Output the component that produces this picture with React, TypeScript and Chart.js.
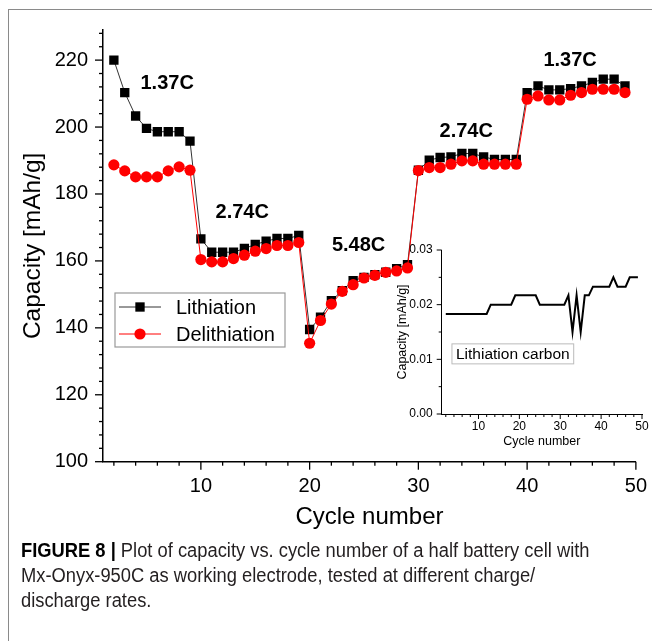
import React, { useEffect, useRef } from "react";
import { Chart, registerables } from "chart.js";

Chart.register(...registerables);

const FONT = '"Liberation Sans", Arial, Helvetica, sans-serif';

// ---------- data ----------
const cycles = [
  2, 3, 4, 5, 6, 7, 8, 9, 10, 11, 12, 13, 14, 15, 16, 17, 18, 19, 20, 21, 22, 23, 24, 25,
  26, 27, 28, 29, 30, 31, 32, 33, 34, 35, 36, 37, 38, 39, 40, 41, 42, 43, 44, 45, 46, 47, 48, 49,
];

const lithiation = [
  220, 210.3, 203.3, 199.6, 198.6, 198.6, 198.6, 195.8,
  166.6,
  162.6, 162.6, 162.6, 163.7, 164.9, 165.9, 166.7, 166.7, 167.6,
  139.5, 143.2, 148.1, 151.1, 154.1, 155.1, 155.9, 156.6, 157.7, 158.9,
  187.1, 190.1, 190.9, 191.1, 192.1, 192.1, 191.1, 190.3, 190.3, 190.3,
  210.3, 212.3, 211.1, 211.1, 211.5, 212.3, 213.3, 214.3, 214.3, 212.3,
];

const delithiation = [
  188.7, 186.9, 185.1, 185.1, 185.1, 186.9, 188.1, 187.1,
  160.4,
  159.7, 159.7, 160.7, 161.7, 162.9, 163.7, 164.6, 164.6, 165.5,
  135.4, 142.2, 147.1, 150.9, 152.9, 154.9, 155.7, 156.6, 157.0, 157.9,
  187.0, 187.9, 187.9, 188.9, 189.9, 189.9, 188.9, 188.9, 188.9, 188.9,
  208.3, 209.3, 208.1, 208.1, 209.5, 210.3, 211.3, 211.3, 211.3, 210.3,
];

const carbonLithiation = [
  0.0183, 0.0183, 0.0183, 0.0183, 0.0183, 0.0183, 0.0183, 0.0183, 0.0183, 0.0183, 0.0183,
  0.02, 0.02, 0.02, 0.02, 0.02, 0.02,
  0.0217, 0.0217, 0.0217, 0.0217, 0.0217, 0.0217,
  0.02, 0.02, 0.02, 0.02, 0.02, 0.02, 0.02,
  0.0217, 0.015, 0.0217, 0.015, 0.0217, 0.0217,
  0.0233, 0.0233, 0.0233, 0.0233, 0.0233,
  0.025,
  0.0233, 0.0233, 0.0233,
  0.025, 0.025, 0.025,
];

const rateLabels = ["1.37C", "2.74C", "5.48C", "2.74C", "1.37C"];
const rateLabelX = [6.9, 13.8, 24.5, 34.4, 43.95];
const rateLabelY = [213.0, 174.4, 164.7, 198.8, 219.8];

const mainTitleX = "Cycle number";
const mainTitleY = "Capacity [mAh/g]";
const insetTitleX = "Cycle number";
const insetTitleY = "Capacity [mAh/g]";
const insetLabel = "Lithiation carbon";

// ---------- plugins ----------
type TickSpec = { id: string; minor: number; major: number; majorLen: number; minorLen: number; width: number };

const tickMarksPlugin = {
  id: "tickMarks",
  afterDraw(chart: any, _args: any, opts: any) {
    const ctx = chart.ctx;
    const area = chart.chartArea;
    (opts.specs || []).forEach((spec: TickSpec) => {
      const scale = chart.scales[spec.id];
      ctx.save();
      ctx.strokeStyle = "#000";
      ctx.lineWidth = spec.width;
      const startIdx = Math.ceil(scale.min / spec.minor - 1e-9);
      const endIdx = Math.floor(scale.max / spec.minor + 1e-9);
      for (let k = startIdx; k <= endIdx; k++) {
        const v = k * spec.minor;
        const r = v / spec.major;
        const isMajor = Math.abs(r - Math.round(r)) < 1e-6;
        const len = isMajor ? spec.majorLen : spec.minorLen;
        const p = scale.getPixelForValue(v);
        ctx.beginPath();
        if (scale.isHorizontal()) {
          ctx.moveTo(p, area.bottom);
          ctx.lineTo(p, area.bottom + len);
        } else {
          ctx.moveTo(area.left, p);
          ctx.lineTo(area.left - len, p);
        }
        ctx.stroke();
      }
      ctx.restore();
    });
  },
};

const mainDecorPlugin = {
  id: "mainDecor",
  afterDatasetsDraw(chart: any) {
    const ctx = chart.ctx;
    const xs = chart.scales.x;
    const ys = chart.scales.y;
    ctx.save();
    // rate annotations
    ctx.fillStyle = "#000";
    ctx.font = `bold 20px ${FONT}`;
    ctx.textAlign = "center";
    ctx.textBaseline = "middle";
    rateLabels.forEach((t, i) => {
      ctx.fillText(t, xs.getPixelForValue(rateLabelX[i]), ys.getPixelForValue(rateLabelY[i]));
    });
    // legend box
    const bx = 115, by = 293, bw = 170, bh = 54;
    ctx.fillStyle = "#fff";
    ctx.fillRect(bx, by, bw, bh);
    ctx.strokeStyle = "#999";
    ctx.lineWidth = 1.2;
    ctx.strokeRect(bx, by, bw, bh);
    const entries = [chart.data.datasets[1], chart.data.datasets[0]];
    entries.forEach((ds: any, i: number) => {
      const cy = by + 14 + i * 27;
      ctx.strokeStyle = ds.borderColor;
      ctx.lineWidth = 1;
      ctx.beginPath();
      ctx.moveTo(bx + 4, cy);
      ctx.lineTo(bx + 46, cy);
      ctx.stroke();
      ctx.fillStyle = ds.backgroundColor;
      ctx.beginPath();
      if (ds.pointStyle === "rect") {
        const s = ds.pointRadius * Math.SQRT1_2;
        ctx.rect(bx + 25 - s, cy - s, 2 * s, 2 * s);
      } else {
        ctx.arc(bx + 25, cy, ds.pointRadius, 0, Math.PI * 2);
      }
      ctx.fill();
      ctx.fillStyle = "#000";
      ctx.font = `20px ${FONT}`;
      ctx.textAlign = "left";
      ctx.textBaseline = "middle";
      ctx.fillText(ds.label, bx + 61, cy + 1);
    });
    ctx.restore();
  },
};

const insetDecorPlugin = {
  id: "insetDecor",
  afterDatasetsDraw(chart: any) {
    const ctx = chart.ctx;
    const xs = chart.scales.x;
    const ys = chart.scales.y;
    ctx.save();
    ctx.font = `15.5px ${FONT}`;
    const w = ctx.measureText(insetLabel).width;
    const cx = xs.getPixelForValue(18.4);
    const cy = ys.getPixelForValue(0.011);
    ctx.fillStyle = "#fff";
    ctx.fillRect(cx - w / 2 - 4, cy - 10, w + 8, 20);
    ctx.strokeStyle = "#bbb";
    ctx.lineWidth = 1;
    ctx.strokeRect(cx - w / 2 - 4, cy - 10, w + 8, 20);
    ctx.fillStyle = "#000";
    ctx.textAlign = "center";
    ctx.textBaseline = "middle";
    ctx.fillText(insetLabel, cx, cy + 1);
    ctx.restore();
  },
};

export default function App() {
  const mainRef = useRef<HTMLCanvasElement>(null);
  const insetRef = useRef<HTMLCanvasElement>(null);

  useEffect(() => {
    const pts = (ys: number[]) => cycles.map((c, i) => ({ x: c, y: ys[i] }));

    const main = new Chart(mainRef.current as HTMLCanvasElement, {
      type: "scatter",
      data: {
        datasets: [
          {
            label: "Delithiation",
            data: pts(delithiation),
            showLine: true,
            borderColor: "#ff0000",
            backgroundColor: "#ff0000",
            pointBorderColor: "#ff0000",
            pointBackgroundColor: "#ff0000",
            pointStyle: "circle",
            pointRadius: 5.6,
            pointBorderWidth: 0,
            borderWidth: 1,
            order: 0,
          },
          {
            label: "Lithiation",
            data: pts(lithiation),
            showLine: true,
            borderColor: "#333333",
            backgroundColor: "#000000",
            pointBorderColor: "#000000",
            pointBackgroundColor: "#000000",
            pointStyle: "rect",
            pointRadius: 6.6,
            pointBorderWidth: 0,
            borderWidth: 1,
            order: 1,
          },
        ],
      } as any,
      options: {
        responsive: false,
        animation: false,
        events: [],
        layout: { padding: { top: 30, right: 15, left: 0, bottom: 0 } },
        plugins: {
          legend: { display: false },
          tooltip: { enabled: false },
          tickMarks: {
            specs: [
              { id: "x", minor: 2, major: 10, majorLen: 8, minorLen: 4, width: 1.3 },
              { id: "y", minor: 4, major: 20, majorLen: 8, minorLen: 4, width: 1.3 },
            ],
          },
        } as any,
        scales: {
          x: {
            type: "linear",
            min: 1,
            max: 50,
            afterFit: (s: any) => {
              s.height = 78.3;
            },
            ticks: {
              stepSize: 10,
              includeBounds: false,
              autoSkip: false,
              maxRotation: 0,
              padding: 5,
              color: "#000",
              font: { family: FONT, size: 20 },
            },
            grid: { display: true, drawOnChartArea: false, drawTicks: true, tickLength: 8, color: "rgba(0,0,0,0)" },
            border: { display: true, color: "#000", width: 1.5 },
            title: {
              display: true,
              text: mainTitleX,
              color: "#000",
              font: { family: FONT, size: 24 },
              padding: { top: 0, bottom: 8 },
            },
          },
          y: {
            type: "linear",
            min: 100,
            max: 229,
            afterFit: (s: any) => {
              s.width = 103;
            },
            ticks: {
              stepSize: 20,
              includeBounds: false,
              autoSkip: false,
              padding: 7,
              color: "#000",
              font: { family: FONT, size: 20 },
            },
            grid: { display: true, drawOnChartArea: false, drawTicks: true, tickLength: 8, color: "rgba(0,0,0,0)" },
            border: { display: true, color: "#000", width: 1.5 },
            title: {
              display: true,
              text: mainTitleY,
              color: "#000",
              font: { family: FONT, size: 24.5 },
              padding: { top: 18.3, bottom: 0 },
            },
          },
        } as any,
      },
      plugins: [tickMarksPlugin, mainDecorPlugin],
    });

    const inset = new Chart(insetRef.current as HTMLCanvasElement, {
      type: "scatter",
      data: {
        datasets: [
          {
            label: insetLabel,
            data: pts(carbonLithiation),
            showLine: true,
            borderColor: "#000",
            backgroundColor: "#000",
            borderWidth: 2,
            pointRadius: 0,
          },
        ],
      } as any,
      options: {
        responsive: false,
        animation: false,
        events: [],
        layout: { padding: { top: 25, right: 10, left: 0, bottom: 0 } },
        plugins: {
          legend: { display: false },
          tooltip: { enabled: false },
          tickMarks: {
            specs: [
              { id: "x", minor: 2, major: 10, majorLen: 5, minorLen: 3, width: 1 },
              { id: "y", minor: 0.005, major: 0.01, majorLen: 5, minorLen: 3, width: 1 },
            ],
          },
        } as any,
        scales: {
          x: {
            type: "linear",
            min: 1,
            max: 50,
            afterFit: (s: any) => {
              s.height = 51;
            },
            ticks: {
              stepSize: 10,
              includeBounds: false,
              autoSkip: false,
              maxRotation: 0,
              padding: 1,
              color: "#000",
              font: { family: FONT, size: 12 },
            },
            grid: { display: true, drawOnChartArea: false, drawTicks: true, tickLength: 4, color: "rgba(0,0,0,0)" },
            border: { display: true, color: "#000", width: 1 },
            title: {
              display: true,
              text: insetTitleX,
              color: "#000",
              font: { family: FONT, size: 12.5 },
              padding: { top: 0, bottom: 15.5 },
            },
          },
          y: {
            type: "linear",
            min: 0,
            max: 0.03,
            afterFit: (s: any) => {
              s.width = 71.7;
            },
            ticks: {
              stepSize: 0.01,
              autoSkip: false,
              padding: 4,
              color: "#000",
              font: { family: FONT, size: 12 },
              callback: (v: any) => Number(v).toFixed(2),
            },
            grid: { display: true, drawOnChartArea: false, drawTicks: true, tickLength: 5, color: "rgba(0,0,0,0)" },
            border: { display: true, color: "#000", width: 1 },
            title: {
              display: true,
              text: insetTitleY,
              color: "#000",
              font: { family: FONT, size: 12.5 },
              padding: { top: 25.5, bottom: 0 },
            },
          },
        } as any,
      },
      plugins: [tickMarksPlugin, insetDecorPlugin],
    });

    return () => {
      main.destroy();
      inset.destroy();
    };
  }, []);

  return (
    <div style={{ position: "absolute", left: 0, top: 0, width: 652, height: 641, background: "#fff", overflow: "hidden" }}>
      <div
        style={{
          position: "absolute",
          left: 8,
          top: 9,
          width: 700,
          height: 700,
          borderTop: "1.5px solid #8a8a8a",
          borderLeft: "1.5px solid #8a8a8a",
        }}
      />
      <canvas
        ref={mainRef}
        width={652}
        height={540}
        style={{ position: "absolute", left: 0, top: 0, width: 652, height: 540 }}
      />
      <canvas
        ref={insetRef}
        width={282}
        height={240}
        style={{ position: "absolute", left: 370, top: 225, width: 282, height: 240 }}
      />
      <div
        style={{
          position: "absolute",
          left: 21,
          top: 538,
          fontFamily: '"Liberation Sans Narrow", "Liberation Sans", Arial, sans-serif',
          fontSize: 19.5,
          lineHeight: "25px",
          color: "#231f20",
          whiteSpace: "nowrap",
          transform: "scaleX(0.94)",
          transformOrigin: "0 0",
        }}
      >
        <b style={{ color: "#000" }}>FIGURE 8 |</b> Plot of capacity vs. cycle number of a half battery cell with
        <br />
        Mx-Onyx-950C as working electrode, tested at different charge/
        <br />
        discharge rates.
      </div>
    </div>
  );
}
